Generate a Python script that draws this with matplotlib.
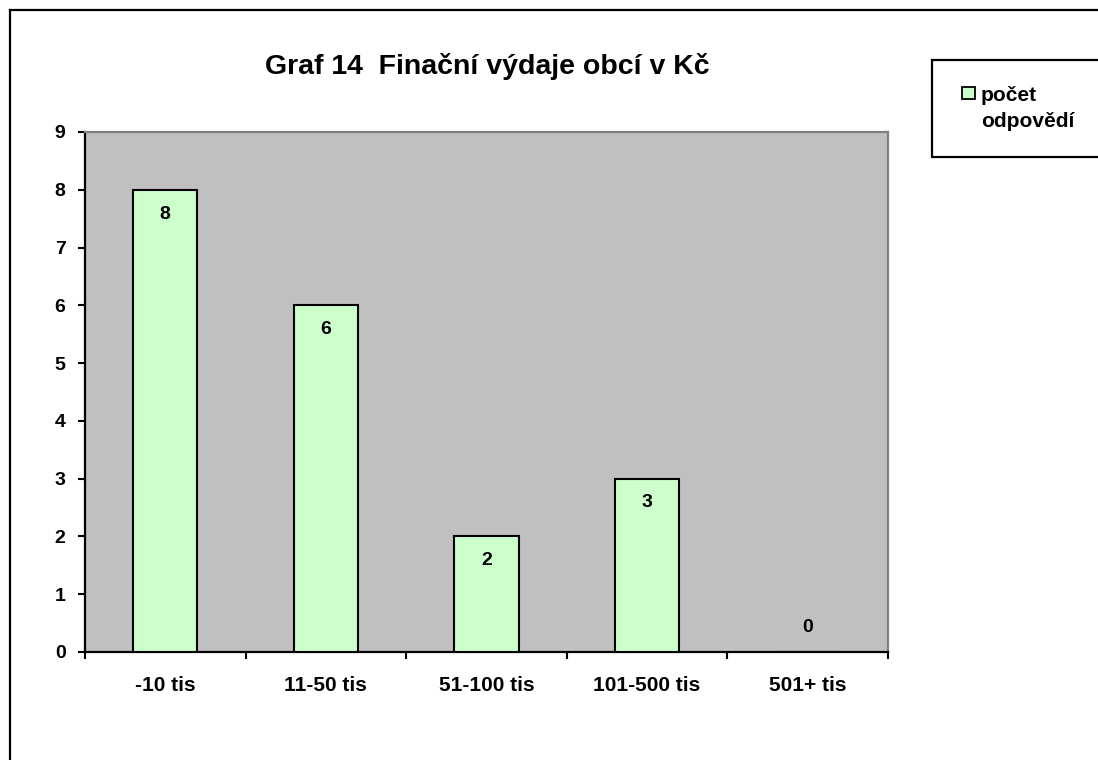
import matplotlib
matplotlib.use("Agg")
import matplotlib.pyplot as plt
from matplotlib.patches import Rectangle
from matplotlib.lines import Line2D

plt.rcParams['font.family'] = ['Liberation Sans', 'DejaVu Sans']
plt.rcParams['font.weight'] = 'bold'

# data
categories = ['-10 tis', '11-50 tis', '51-100 tis', '101-500 tis', '501+ tis']
counts = [8, 6, 2, 3, 0]
series_name = 'počet\nodpovědí'
title = 'Graf 14  Finační výdaje obcí v Kč'

W, H = 1098, 760
fig = plt.figure(figsize=(W / 100, H / 100), dpi=100)

# outer chart border (runs off the right and bottom edge)
fig.add_artist(Line2D([10 / W, 10 / W], [1 - 10 / H, -0.1], transform=fig.transFigure,
                      color='black', lw=1.6))
fig.add_artist(Line2D([10 / W, 1.1], [1 - 10 / H, 1 - 10 / H], transform=fig.transFigure,
                      color='black', lw=1.6))

ax = fig.add_axes([85 / W, 1 - 652 / H, (888 - 85) / W, (652 - 132) / H])
ax.set_facecolor('#C0C0C0')

x = list(range(len(categories)))
bars = ax.bar(x, counts, width=0.4, color='#CCFFCC', edgecolor='black', linewidth=1.5,
              zorder=3)

for xi, v in zip(x, counts):
    off = -17.5 if v > 0 else 18
    ax.annotate(str(v), (xi, v), xytext=(0, off), textcoords='offset points',
                ha='center', va='center', fontsize=14, fontweight='bold', zorder=4)

ax.set_xlim(-0.5, len(categories) - 0.5)
ax.set_ylim(0, 9)
ax.set_yticks(range(0, 10))

# tick marks between categories, labels at centres
ax.set_xticks([i - 0.5 for i in range(len(categories) + 1)])
ax.set_xticklabels([])
ax.set_xticks(x, minor=True)
ax.set_xticklabels(categories, minor=True)
ax.tick_params(axis='x', which='major', length=5, width=1.5, direction='out')
ax.tick_params(axis='x', which='minor', length=0, pad=17, labelsize=15)
ax.tick_params(axis='y', length=5, width=1.5, direction='out', pad=9, labelsize=14)

for s in ['left', 'bottom']:
    ax.spines[s].set_color('black')
    ax.spines[s].set_linewidth(1.6)
for s in ['top', 'right']:
    ax.spines[s].set_color('#808080')
    ax.spines[s].set_linewidth(1.6)

fig.text(487 / W, 1 - 67 / H, title, ha='center', va='center', fontsize=20.5,
         fontweight='bold')

# legend box (clipped at the right edge like the original)
fig.add_artist(Rectangle((932 / W, 1 - 157 / H), 0.2, (157 - 60) / H,
                         transform=fig.transFigure, facecolor='white',
                         edgecolor='black', lw=1.6))
fig.add_artist(Rectangle((962 / W, 1 - 99 / H), 13 / W, 12 / H,
                         transform=fig.transFigure, facecolor='#CCFFCC',
                         edgecolor='black', lw=1.3))
fig.text(981 / W, 1 - 108.5 / H, series_name, ha='left', va='center', fontsize=15,
         fontweight='bold', linespacing=1.5)

fig.savefig('out.png', dpi=100)
